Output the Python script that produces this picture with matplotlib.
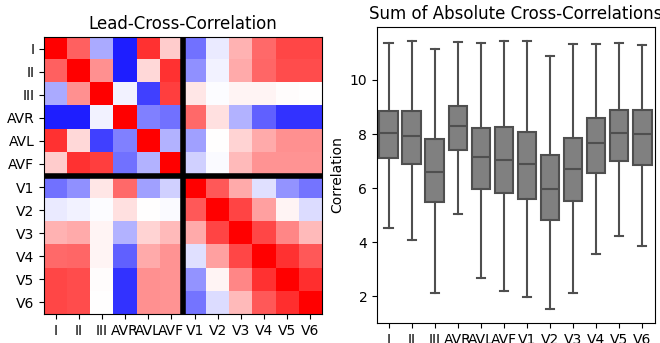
import numpy as np
import matplotlib.pyplot as plt

leads = ["I", "II", "III", "AVR", "AVL", "AVF", "V1", "V2", "V3", "V4", "V5", "V6"]

# lead-to-lead cross-correlation (bwr -1..1)
corr = np.array([
    [ 1.00,  0.62, -0.33, -0.88,  0.80,  0.20, -0.55, -0.08,  0.30,  0.58,  0.72,  0.72],
    [ 0.62,  1.00,  0.43, -0.88,  0.15,  0.80, -0.43, -0.05,  0.33,  0.60,  0.70,  0.70],
    [-0.33,  0.43,  1.00, -0.05, -0.75,  0.75,  0.10, -0.01,  0.04,  0.04,  0.01,  0.00],
    [-0.88, -0.88, -0.05,  1.00, -0.50, -0.55,  0.58,  0.12, -0.30, -0.62, -0.80, -0.80],
    [ 0.80,  0.15, -0.75, -0.50,  1.00, -0.30, -0.37,  0.00,  0.17,  0.33,  0.43,  0.43],
    [ 0.20,  0.80,  0.75, -0.55, -0.30,  1.00, -0.18, -0.02,  0.27,  0.42,  0.42,  0.42],
    [-0.55, -0.43,  0.10,  0.58, -0.37, -0.18,  1.00,  0.65,  0.33, -0.12, -0.42, -0.54],
    [-0.08, -0.05, -0.01,  0.12,  0.00, -0.02,  0.65,  1.00,  0.73,  0.37,  0.04, -0.14],
    [ 0.30,  0.33,  0.04, -0.30,  0.17,  0.27,  0.33,  0.73,  1.00,  0.72,  0.47,  0.27],
    [ 0.58,  0.60,  0.04, -0.62,  0.33,  0.42, -0.12,  0.37,  0.72,  1.00,  0.80,  0.65],
    [ 0.72,  0.70,  0.01, -0.80,  0.43,  0.42, -0.42,  0.04,  0.47,  0.80,  1.00,  0.82],
    [ 0.72,  0.70,  0.00, -0.80,  0.43,  0.42, -0.54, -0.14,  0.27,  0.65,  0.82,  1.00],
])

# box stats for sum of |cross-correlation| per lead
whislo = [4.54, 4.09, 2.11, 5.03, 2.69, 2.20, 1.96, 1.51, 2.11, 3.55, 4.22, 3.86]
q1     = [7.12, 6.91, 5.50, 7.42, 5.96, 5.82, 5.61, 4.82, 5.51, 6.55, 7.00, 6.87]
med    = [8.04, 7.94, 6.60, 8.29, 7.16, 7.03, 6.89, 5.96, 6.70, 7.66, 8.03, 7.99]
q3     = [8.86, 8.86, 7.80, 9.03, 8.22, 8.26, 8.08, 7.24, 7.85, 8.58, 8.88, 8.88]
whishi = [11.37, 11.46, 11.13, 11.42, 11.35, 11.44, 11.44, 10.87, 11.33, 11.34, 11.37, 11.29]

fig = plt.figure(figsize=(6.6, 3.43), dpi=100)

# ---------------------------------------------------------------- heatmap
ax1 = fig.add_axes([0.0667, 0.0845, 0.4212, 0.8076])
ax1.imshow(corr, cmap='bwr', vmin=-1, vmax=1, aspect='auto')
n_limb = 6
ax1.axvline(n_limb - 0.5, color='black', lw=4)
ax1.axhline(n_limb - 0.5, color='black', lw=4)
ax1.set_xticks(range(len(leads)))
ax1.set_xticklabels(leads)
ax1.set_yticks(range(len(leads)))
ax1.set_yticklabels(leads)
ax1.set_title("Lead-Cross-Correlation")

# ---------------------------------------------------------------- boxplot
ax2 = fig.add_axes([0.5712, 0.0583, 0.4212, 0.8630])
stats = [dict(whislo=a, q1=b, med=c, q3=d, whishi=e, label=l)
         for a, b, c, d, e, l in zip(whislo, q1, med, q3, whishi, leads)]
line_c = '#4f4f4f'
ax2.bxp(stats, positions=range(len(leads)), widths=0.8, capwidths=0.35,
        showfliers=False, patch_artist=True,
        boxprops=dict(facecolor='#808080', edgecolor=line_c, lw=1.5),
        whiskerprops=dict(color=line_c, lw=1.5),
        capprops=dict(color=line_c, lw=1.5),
        medianprops=dict(color=line_c, lw=1.5))
ax2.set_xlim(-0.5, 11.55)
ax2.set_ylim(1.01, 11.96)
ax2.set_yticks([2, 4, 6, 8, 10])
ax2.set_ylabel("Correlation")
ax2.set_title("Sum of Absolute Cross-Correlations")

plt.savefig('out.png', dpi=100)
